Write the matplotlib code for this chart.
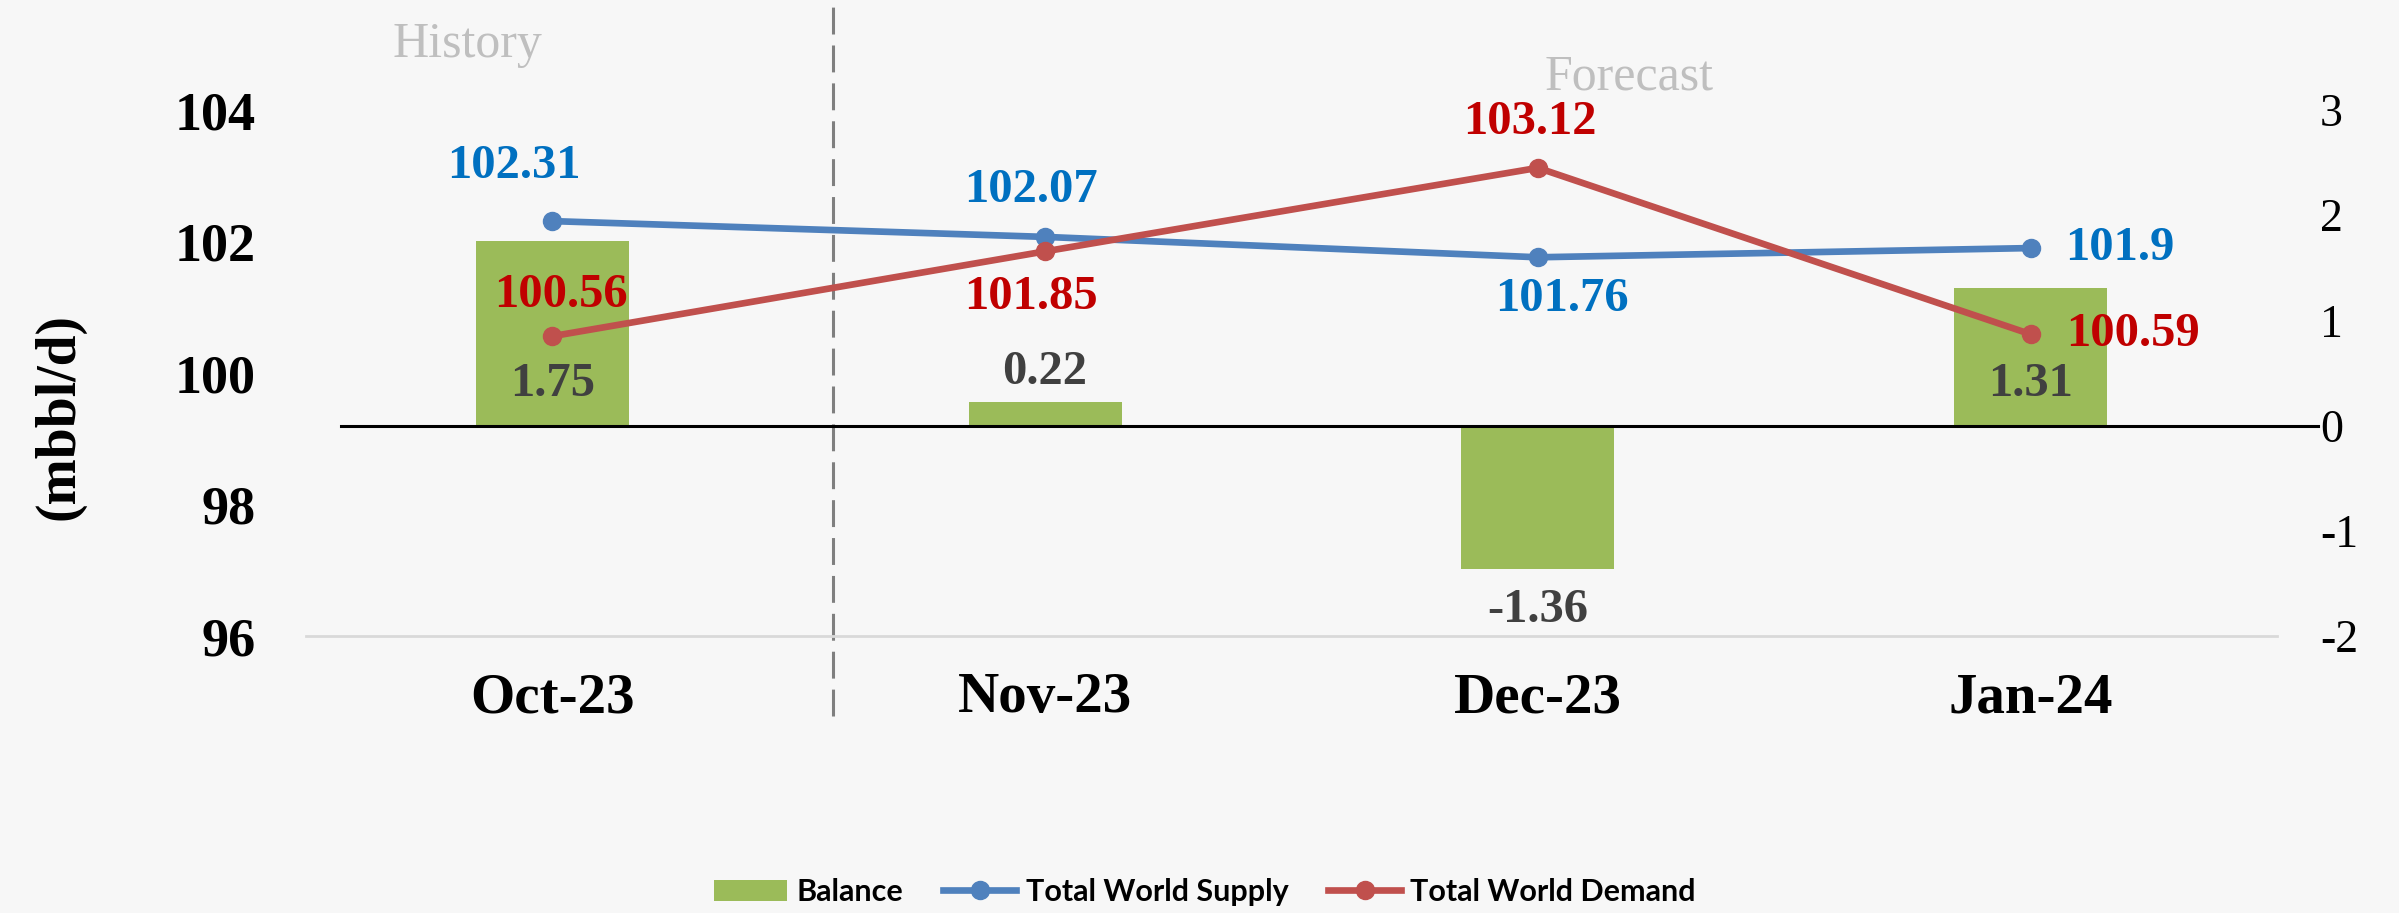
import numpy as np
import matplotlib
matplotlib.use("Agg")
import matplotlib.pyplot as plt
from matplotlib.patches import Patch
from matplotlib.lines import Line2D

# data
months = ["Oct-23", "Nov-23", "Dec-23", "Jan-24"]
balance = [1.75, 0.22, -1.36, 1.31]
supply = [102.31, 102.07, 101.76, 101.9]
demand = [100.56, 101.85, 103.12, 100.59]
left_ticks = [96, 98, 100, 102, 104]
right_ticks = [-2, -1, 0, 1, 2, 3]

# label offsets in points (dx, dy)
supply_off = [(-28, 40), (-10, 34), (17, -30), (64, 0)]
demand_off = [(6, 30), (-10, -33), (-6, 33), (74, 0)]

green = "#9BBB59"
blue = "#4F81BD"
red = "#C0504D"
bg = "#f7f7f7"
serif = ["Liberation Serif", "DejaVu Serif"]
lab = dict(ha="center", va="center", fontsize=35, fontweight="bold", family=serif)

fig = plt.figure(figsize=(23.99, 9.13), dpi=100, facecolor=bg)
W, H = 2399, 913
ax = fig.add_axes([306 / W, 1 - 636 / H, (2277 - 306) / W, (636 - 110) / H])
ax.set_facecolor("none")
ax2 = ax.twinx()
x = np.arange(len(months))

# bars on the balance scale (right)
ax.bar(x, balance, width=0.31, color=green, zorder=2)
ax.set_ylim(-2, 3)
ax.set_xlim(-0.5, 3.5)

# zero line of the balance axis
ax.plot([0.018, 1.021], [0, 0], transform=ax.get_yaxis_transform(),
        color="black", lw=2.2, clip_on=False, zorder=3)

for i, v in enumerate(balance):
    if i in (0, 3):
        ax.annotate(f"{v:g}", (x[i], 0), xytext=(0, 30), textcoords="offset points",
                    color="#404040", **lab)
    elif v >= 0:
        ax.annotate(f"{v:g}", (x[i], v), xytext=(0, 22), textcoords="offset points",
                    color="#404040", **lab)
    else:
        ax.annotate(f"{v:g}", (x[i], v), xytext=(0, -30), textcoords="offset points",
                    color="#404040", **lab)

# lines on the supply/demand scale (left)
ax2.set_ylim(96, 104)
ax2.plot(x, supply, color=blue, lw=4.8, marker="o", ms=13, zorder=4)
ax2.plot(x, demand, color=red, lw=4.8, marker="o", ms=13, zorder=4)

for i in range(len(months)):
    ax2.annotate(f"{supply[i]:g}", (x[i], supply[i]), xytext=supply_off[i],
                 textcoords="offset points", color="#0070C0", **lab)
    ax2.annotate(f"{demand[i]:g}", (x[i], demand[i]), xytext=demand_off[i],
                 textcoords="offset points", color="#C00000", **lab)

# swap sides: balance ticks right, mbbl/d ticks left
ax.yaxis.tick_right()
ax2.yaxis.tick_left()
ax.set_yticks(right_ticks, labels=[str(t) for t in right_ticks],
              fontsize=33, family=serif)
ax2.set_yticks(left_ticks, labels=[str(t) for t in left_ticks],
               fontsize=39, fontweight="bold", family=serif)
ax.tick_params(axis="y", length=0, pad=31)
ax2.tick_params(axis="y", length=0, pad=36)

for a in (ax, ax2):
    for s in a.spines.values():
        s.set_visible(False)
ax.spines["bottom"].set_visible(True)
ax.spines["bottom"].set_color("#d9d9d9")
ax.spines["bottom"].set_linewidth(2)

ax.set_xticks(x, labels=months, fontsize=41, fontweight="bold", family=serif)
ax.tick_params(axis="x", length=0, pad=26)

# history / forecast divider
ax.plot([0.57, 0.57], [-0.152, 1.209], transform=ax.get_xaxis_transform(),
        color="#7f7f7f", lw=2.2, ls=(0, (8.8, 3.6)), clip_on=False, zorder=1)
fig.text(467 / W, 1 - 45 / H, "History", ha="center", va="center",
         fontsize=36, family=serif, color="#bfbfbf")
fig.text(1629 / W, 1 - 77 / H, "Forecast", ha="center", va="center",
         fontsize=36, family=serif, color="#bfbfbf")

fig.text(59 / W, 1 - 417 / H, "(mbbl/d)", rotation=90, ha="center", va="center",
         fontsize=40, fontweight="bold", family=serif)

handles = [Patch(facecolor=green, label="Balance"),
           Line2D([], [], color=blue, lw=4.8, marker="o", ms=13, label="Total World Supply"),
           Line2D([], [], color=red, lw=4.8, marker="o", ms=13, label="Total World Demand")]
fig.legend(handles=handles, loc="center", bbox_to_anchor=(1205 / W, 1 - 892 / H),
           ncol=3, frameon=False, handlelength=2.4, handletextpad=0.3,
           columnspacing=1.3,
           prop={"family": ["Lato", "DejaVu Sans"], "weight": "bold", "size": 22})

fig.savefig("out.png", dpi=100, facecolor=bg)
